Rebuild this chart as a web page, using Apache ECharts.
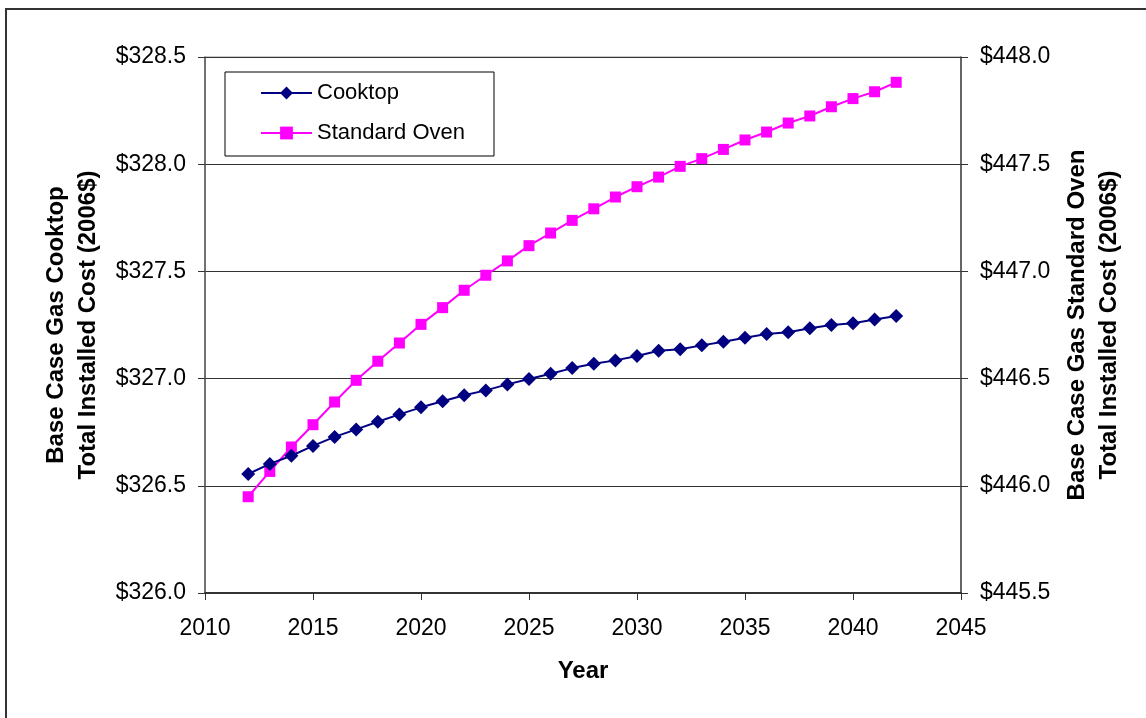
<!DOCTYPE html>
<html>
<head>
<meta charset="utf-8">
<title>Base Case Gas Cooktop and Standard Oven Installed Cost</title>
<script src="https://cdn.jsdelivr.net/npm/echarts@6/dist/echarts.min.js"></script>
<style>
  html, body { margin: 0; padding: 0; background: #ffffff; }
  #chart { width: 1146px; height: 718px; }
</style>
</head>
<body>
<div id="chart"></div>
<script>
// Projection years
const years = [2012, 2013, 2014, 2015, 2016, 2017, 2018, 2019, 2020, 2021,
  2022, 2023, 2024, 2025, 2026, 2027, 2028, 2029, 2030, 2031,
  2032, 2033, 2034, 2035, 2036, 2037, 2038, 2039, 2040, 2041, 2042];

// Total installed cost, cooktop (2006$), left axis
const cooktopCost = [326.555, 326.602, 326.640, 326.686, 326.728, 326.763, 326.799, 326.833, 326.866, 326.894,
  326.922, 326.945, 326.973, 326.998, 327.023, 327.049, 327.069, 327.085, 327.105, 327.130,
  327.137, 327.155, 327.172, 327.191, 327.208, 327.216, 327.235, 327.250, 327.258, 327.276, 327.292];

// Total installed cost, standard oven (2006$), right axis
const ovenCost = [445.949, 446.067, 446.181, 446.285, 446.391, 446.492, 446.581, 446.666, 446.753, 446.831,
  446.912, 446.982, 447.049, 447.120, 447.179, 447.238, 447.292, 447.347, 447.395, 447.440,
  447.490, 447.526, 447.569, 447.613, 447.650, 447.692, 447.725, 447.768, 447.806, 447.838, 447.882];

const seriesNames = ['Cooktop', 'Standard Oven'];
const xAxisTitle = 'Year';
const leftAxisTitle = 'Base Case Gas Cooktop\nTotal Installed Cost (2006$)';
const rightAxisTitle = 'Base Case Gas Standard Oven\nTotal Installed Cost (2006$)';

const FONT = '"Liberation Sans", Arial, sans-serif';
const dollar = v => '$' + v.toFixed(1);

const chart = echarts.init(document.getElementById('chart'), null, { renderer: 'canvas' });

chart.setOption({
  backgroundColor: '#ffffff',
  animation: false,
  textStyle: { fontFamily: FONT, color: '#000' },
  graphic: [{
    type: 'rect',
    shape: { x: 6, y: 9, width: 1300, height: 900 },
    style: { fill: 'none', stroke: '#333', lineWidth: 2 },
    silent: true,
    z: 0
  }],
  grid: {
    left: 205, right: 185, top: 57, bottom: 125,
    show: true, borderColor: '#999', borderWidth: 1, backgroundColor: '#fff'
  },
  legend: {
    orient: 'vertical',
    left: 225, top: 72,
    backgroundColor: '#fff',
    borderColor: '#000', borderWidth: 1,
    padding: [9, 29, 11, 35],
    itemWidth: 51, itemHeight: 16, itemGap: 16,
    textStyle: { fontFamily: FONT, fontSize: 22, color: '#000', lineHeight: 24 },
    data: seriesNames
  },
  xAxis: {
    type: 'value',
    min: 2010, max: 2045, interval: 5,
    name: xAxisTitle, nameLocation: 'middle', nameGap: 66,
    nameTextStyle: { fontFamily: FONT, fontSize: 24, fontWeight: 'bold', color: '#000' },
    axisLine: { show: true, lineStyle: { color: '#333', width: 2 } },
    axisTick: { show: true, inside: false, length: 7, lineStyle: { color: '#333', width: 1 } },
    axisLabel: { fontFamily: FONT, fontSize: 23, color: '#000', margin: 24, formatter: v => String(v) },
    splitLine: { show: false }
  },
  yAxis: [{
    type: 'value', position: 'left',
    min: 326, max: 328.5, interval: 0.5,
    name: leftAxisTitle, nameLocation: 'middle', nameGap: 101,
    nameTextStyle: { fontFamily: FONT, fontSize: 24, fontWeight: 'bold', color: '#000', lineHeight: 32 },
    axisLine: { show: true, lineStyle: { color: '#555', width: 1.5 } },
    axisTick: { show: true, inside: false, length: 7, lineStyle: { color: '#333', width: 1 } },
    axisLabel: { fontFamily: FONT, fontSize: 23, color: '#000', margin: 19, formatter: dollar },
    splitLine: { show: true, lineStyle: { color: '#333', width: 1 } }
  }, {
    type: 'value', position: 'right',
    min: 445.5, max: 448, interval: 0.5,
    name: rightAxisTitle, nameLocation: 'middle', nameGap: 100,
    nameTextStyle: { fontFamily: FONT, fontSize: 24, fontWeight: 'bold', color: '#000', lineHeight: 32 },
    axisLine: { show: true, lineStyle: { color: '#444', width: 1.5 } },
    axisTick: { show: true, inside: false, length: 7, lineStyle: { color: '#333', width: 1 } },
    axisLabel: { fontFamily: FONT, fontSize: 23, color: '#000', margin: 19, formatter: dollar },
    splitLine: { show: false }
  }],
  series: [{
    name: seriesNames[0],
    type: 'line',
    yAxisIndex: 0,
    data: years.map((y, i) => [y, cooktopCost[i]]),
    symbol: 'diamond', symbolSize: 14,
    lineStyle: { color: '#000080', width: 2 },
    itemStyle: { color: '#000080' },
    z: 3
  }, {
    name: seriesNames[1],
    type: 'line',
    yAxisIndex: 1,
    data: years.map((y, i) => [y, ovenCost[i]]),
    symbol: 'rect', symbolSize: 11,
    lineStyle: { color: '#ff00ff', width: 2 },
    itemStyle: { color: '#ff00ff' },
    z: 2
  }]
});
</script>
</body>
</html>
